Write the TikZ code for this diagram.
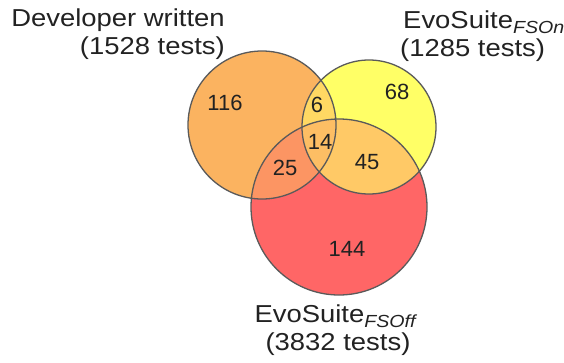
\documentclass[tikz,border=0pt]{standalone}
\usepackage{fontspec}
\setmainfont{Liberation Sans}
\newfontfamily\lblfont[FakeStretch=1.12]{Liberation Sans}
\definecolor{cA}{HTML}{FBB360}
\definecolor{cB}{HTML}{FFFF66}
\definecolor{cC}{HTML}{FF6666}
\definecolor{cAB}{HTML}{FFD863}
\definecolor{cAC}{HTML}{FC9563}
\definecolor{cBC}{HTML}{FFC966}
\definecolor{cABC}{HTML}{FDBE64}
\definecolor{edge}{HTML}{5A5A5A}
\definecolor{txt}{HTML}{222222}
\newcommand{\subl}[1]{\raisebox{-5pt}{\fontsize{17.5}{18}\selectfont\itshape #1}}
\tikzset{
  lbl/.style={inner sep=0pt, text=txt, font=\lblfont\fontsize{24.5}{28}\selectfont},
  num/.style={inner sep=0pt, text=txt, font=\fontsize{22}{25}\selectfont},
  ring/.style={draw=edge, line width=1.3pt}
}
\begin{document}
\begin{tikzpicture}[x=1pt,y=-1pt]
\useasboundingbox (0,0) rectangle (564,362);
\def\Ac{(262,125) circle[radius=74]}
\def\Bc{(369,127) circle[radius=67]}
\def\Cc{(339,207) circle[radius=88]}
\fill[cA] \Ac;
\fill[cB] \Bc;
\fill[cC] \Cc;
\begin{scope}\clip \Ac; \fill[cAB] \Bc; \end{scope}
\begin{scope}\clip \Ac; \fill[cAC] \Cc; \end{scope}
\begin{scope}\clip \Bc; \fill[cBC] \Cc; \end{scope}
\begin{scope}\clip \Ac; \clip \Bc; \fill[cABC] \Cc; \end{scope}
\node[ring, circle, minimum size=148pt, inner sep=0pt] (dev) at (262,125) {};
\node[ring, circle, minimum size=134pt, inner sep=0pt] (on) at (369,127) {};
\node[ring, circle, minimum size=176pt, inner sep=0pt] (off) at (339,207) {};
\node[num] (n116) at (225,103) {116};
\node[num] (n6) at (317,105) {6};
\node[num] (n68) at (397,92) {68};
\node[num] (n14) at (320,142) {14};
\node[num] (n25) at (285,168) {25};
\node[num] (n45) at (367,162) {45};
\node[num] (n144) at (347,249) {144};
\node[lbl, anchor=base east] (devl1) at (225,26) {Developer written};
\node[lbl, anchor=base east] (devl2) at (225,54) {(1528 tests)};
\node[lbl, anchor=base west] (onl1) at (403,28) {EvoSuite\subl{FSOn}};
\node[lbl, anchor=base west] (onl2) at (400,56) {(1285 tests)};
\node[lbl, anchor=base] (offl1) at (335,322) {EvoSuite\subl{FSOff}};
\node[lbl, anchor=base] (offl2) at (338,350) {(3832 tests)};
\end{tikzpicture}
\end{document}
